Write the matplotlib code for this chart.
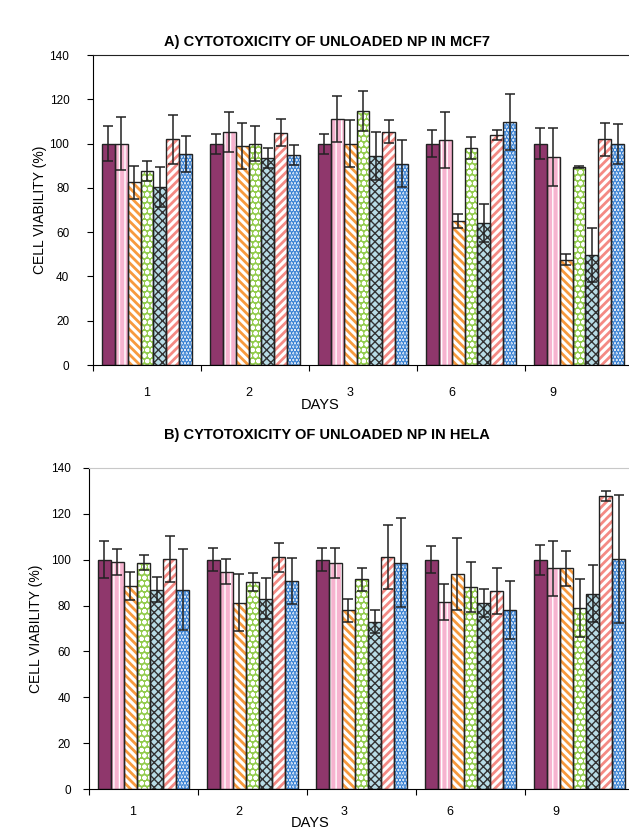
import matplotlib
matplotlib.use('Agg')
import matplotlib.pyplot as plt
import numpy as np

plt.rcParams['font.family'] = ['Liberation Sans', 'DejaVu Sans']
plt.rcParams['hatch.linewidth'] = 1.6

days = ['1', '2', '3', '6', '9']

# rows = 7 treatments, columns = days
mcf7_mean = [
    [100, 100, 100, 100, 100],
    [100, 105.4, 111, 101.6, 94],
    [82.5, 99, 100, 65, 47.5],
    [87.6, 100, 114.7, 98, 89.3],
    [80.4, 93.6, 94.5, 64, 49.7],
    [102, 105, 105.4, 104, 102],
    [95.2, 94.8, 91, 109.6, 99.7],
]
mcf7_err = [
    [8, 4.5, 4.5, 6, 7],
    [12, 9, 10.5, 12.8, 13],
    [7.5, 10.5, 10.5, 3, 2.5],
    [4.5, 8, 9, 5, 0.5],
    [9, 4.5, 10.8, 8.5, 12.3],
    [11, 6, 5.3, 2.3, 7.5],
    [8, 4.7, 10.5, 12.7, 9],
]
hela_mean = [
    [100, 100, 100, 100, 100],
    [99, 94.8, 98.7, 81.5, 96.2],
    [88.5, 81.2, 78, 93.9, 96.2],
    [98.7, 90.4, 91.4, 88, 79],
    [87, 83, 72.9, 81.2, 85.2],
    [100.4, 101.1, 101.1, 86.3, 127.8],
    [87, 90.7, 98.7, 77.9, 100.4],
]
hela_err = [
    [8, 5, 5, 6, 6.5],
    [5.7, 5.3, 6.5, 7.8, 12],
    [6, 12.4, 5, 15.7, 7.8],
    [3.3, 4, 5, 11, 12.7],
    [5.6, 9, 5, 6, 12.3],
    [10, 6.4, 14, 10, 2.2],
    [17.5, 10, 19.4, 12.6, 28],
]

# (facecolor, hatch colour, hatch, hatch linewidth)
styles = [
    ('#8f376c', None, None, 0),
    ('#f6b3cf', 'white', '|||', 1.0),
    ('white', '#f79a3e', '\\\\\\\\', 2.0),
    ('#93cc4e', 'white', 'ooo', 1.4),
    ('#b8dce6', '#333333', 'xxxx', 1.0),
    ('white', '#f48a84', '////', 2.0),
    ('white', '#2a78d0', '.....', 2.2),
]

W, H = 629, 833
fig = plt.figure(figsize=(W / 100, H / 100), dpi=100)


def panel(rect, means, errs, title, title_y, top_color, lab_start, lab_step,
          lab_pad, ytick_pad, ylab_pad, days_xy):
    ax = fig.add_axes(rect)
    x = np.arange(len(days))
    width = 0.12
    n = len(means)
    for i in range(n):
        pos = x + (i - (n - 1) / 2) * width
        face, hc, hatch, hlw = styles[i]
        if hatch:
            bars = ax.bar(pos, means[i], width, color=face, edgecolor=hc, hatch=hatch,
                          linewidth=0, zorder=2)
            for b in bars:
                if hasattr(b, 'set_hatch_linewidth'):
                    b.set_hatch_linewidth(hlw)
        else:
            ax.bar(pos, means[i], width, color=face, linewidth=0, zorder=2)
        ax.bar(pos, means[i], width, color='none', edgecolor='#222222', linewidth=1.0, zorder=3)
        ax.errorbar(pos, means[i], yerr=errs[i], fmt='none', ecolor='#222222',
                    elinewidth=1.1, capsize=3.5, capthick=1.1, zorder=4)
    ax.set_xlim(-0.5, len(days) - 0.5)
    ax.set_ylim(0, 140)
    ax.set_yticks(range(0, 141, 20))
    ax.set_xticks(np.arange(len(days) + 1) - 0.5)
    ax.set_xticklabels([])
    ax.set_xticks(lab_start + x * lab_step, minor=True)
    ax.set_xticklabels(days, minor=True, fontsize=9)
    ax.tick_params(axis='x', which='minor', length=0, pad=lab_pad)
    ax.tick_params(axis='x', which='major', length=4, direction='out')
    ax.tick_params(axis='y', length=4, labelsize=8.5, pad=ytick_pad)
    ax.spines['right'].set_visible(False)
    ax.spines['top'].set_color(top_color)
    ax.set_xlabel('DAYS', fontsize=10.5, va='center')
    ax.xaxis.set_label_coords(*days_xy)
    ax.set_ylabel('CELL VIABILITY (%)', fontsize=10, labelpad=ylab_pad)
    fig.text(0.52, title_y, title, ha='center', va='center', fontsize=10.5, fontweight='bold')
    return ax


panel([93 / W, 1 - 365 / H, 540 / W, 310 / H], mcf7_mean, mcf7_err,
      'A) CYTOTOXICITY OF UNLOADED NP IN MCF7', 1 - 42 / H, '#222222',
      0.0, 0.94, 16, 13, 2, ((320 - 93) / 540, -40 / 310))
panel([89 / W, 1 - 789 / H, 545 / W, 321 / H], hela_mean, hela_err,
      'B) CYTOTOXICITY OF UNLOADED NP IN HELA', 1 - 435 / H, '#c8c8c8',
      -0.1, 0.97, 12, 9, 6, ((310 - 89) / 545, -34 / 321))

fig.savefig('out.png', dpi=100)
